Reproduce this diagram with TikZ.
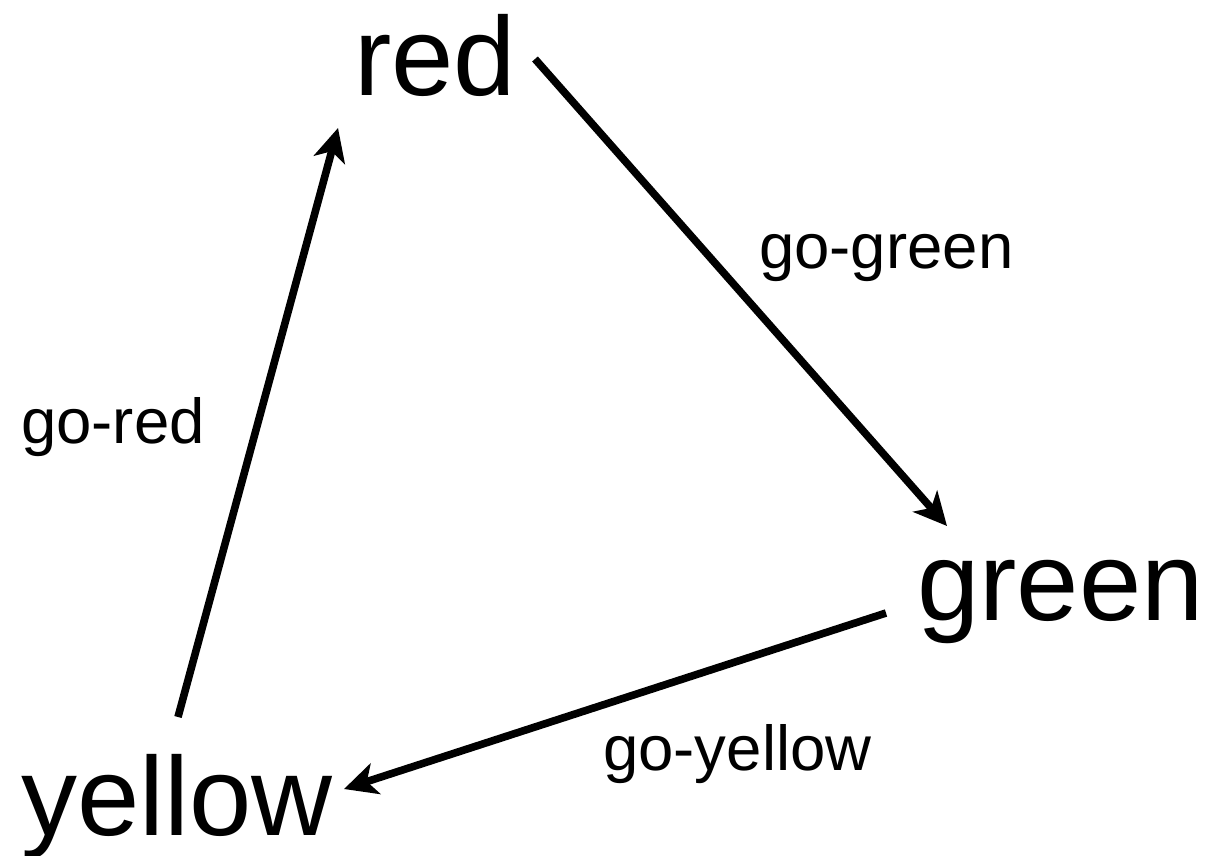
\documentclass[tikz,border=0pt]{standalone}
\usepackage{fontspec}
\setmainfont{Liberation Sans}
\usetikzlibrary{arrows.meta}
\begin{document}
\begin{tikzpicture}[x=1pt,y=-1pt,
  state/.style={inner sep=0pt,anchor=base west,font=\fontsize{112}{112}\selectfont},
  lbl/.style={inner sep=0pt,anchor=base west,font=\fontsize{63.5}{63.5}\selectfont},
  conn/.style={line width=7.6pt,-{Stealth[length=33pt,width=32pt,inset=9pt]}}]
\useasboundingbox (0,0) rectangle (1214,855);
\node[state] (red) at (354,95) {red};
\node[state] (green) at (917,620) {green};
\node[state] (yellow) at (21,835) {yellow};
\node[lbl] (lgg) at (759,268) {go-green};
\node[lbl] (lgr) at (21,443) {go-red};
\node[lbl] (lgy) at (603,770) {go-yellow};
\coordinate (r-out) at (535,59);
\coordinate (g-in) at (947,526);
\coordinate (g-out) at (886,613);
\coordinate (y-in) at (344,789);
\coordinate (y-out) at (178,717);
\coordinate (r-in) at (338,128);
\draw[conn] (r-out) -- (g-in);
\draw[conn] (g-out) -- (y-in);
\draw[conn] (y-out) -- (r-in);
\end{tikzpicture}
\end{document}
